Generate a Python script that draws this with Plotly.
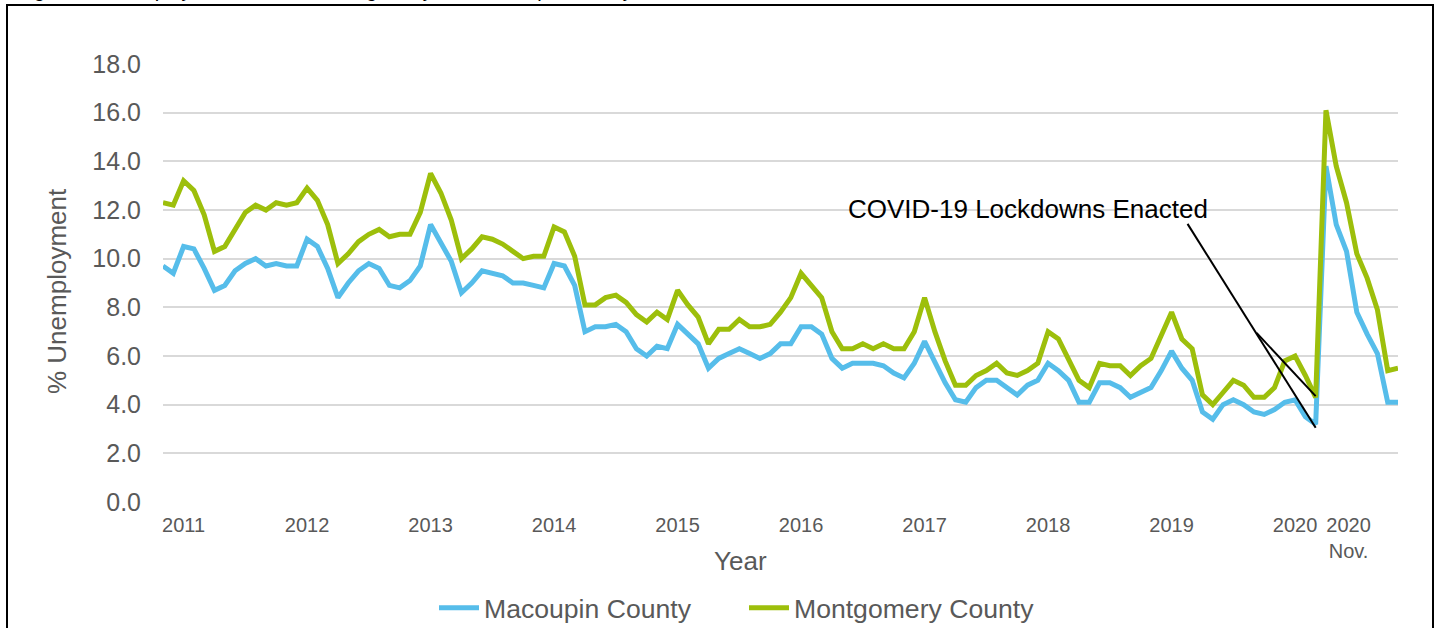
import plotly.graph_objects as go

# Monthly unemployment rate (%), Nov 2010 .. Nov 2020
macoupin = [9.7, 9.4, 10.5, 10.4, 9.6, 8.7, 8.9, 9.5, 9.8, 10.0,
            9.7, 9.8, 9.7, 9.7, 10.8, 10.5, 9.6, 8.4, 9.0, 9.5,
            9.8, 9.6, 8.9, 8.8, 9.1, 9.7, 11.4, 10.6, 9.9, 8.6,
            9.0, 9.5, 9.4, 9.3, 9.0, 9.0, 8.9, 8.8, 9.8, 9.7,
            8.9, 7.0, 7.2, 7.2, 7.3, 7.0, 6.3, 6.0, 6.4, 6.3,
            7.3, 6.9, 6.5, 5.5, 5.9, 6.1, 6.3, 6.1, 5.9, 6.1,
            6.5, 6.5, 7.2, 7.2, 6.9, 5.9, 5.5, 5.7, 5.7, 5.7,
            5.6, 5.3, 5.1, 5.7, 6.6, 5.7, 4.9, 4.2, 4.1, 4.7,
            5.0, 5.0, 4.7, 4.4, 4.8, 5.0, 5.7, 5.4, 5.0, 4.1,
            4.1, 4.9, 4.9, 4.7, 4.3, 4.5, 4.7, 5.4, 6.2, 5.5,
            5.0, 3.7, 3.4, 4.0, 4.2, 4.0, 3.7, 3.6, 3.8, 4.1,
            4.2, 3.5, 3.2, 13.8, 11.4, 10.3, 7.8, 6.9, 6.1, 4.1,
            4.1]

montgomery = [12.3, 12.2, 13.2, 12.8, 11.8, 10.3, 10.5, 11.2, 11.9, 12.2,
              12.0, 12.3, 12.2, 12.3, 12.9, 12.4, 11.4, 9.8, 10.2, 10.7,
              11.0, 11.2, 10.9, 11.0, 11.0, 11.9, 13.5, 12.7, 11.6, 10.0,
              10.4, 10.9, 10.8, 10.6, 10.3, 10.0, 10.1, 10.1, 11.3, 11.1,
              10.1, 8.1, 8.1, 8.4, 8.5, 8.2, 7.7, 7.4, 7.8, 7.5,
              8.7, 8.1, 7.6, 6.5, 7.1, 7.1, 7.5, 7.2, 7.2, 7.3,
              7.8, 8.4, 9.4, 8.9, 8.4, 7.0, 6.3, 6.3, 6.5, 6.3,
              6.5, 6.3, 6.3, 7.0, 8.4, 7.0, 5.8, 4.8, 4.8, 5.2,
              5.4, 5.7, 5.3, 5.2, 5.4, 5.7, 7.0, 6.7, 5.9, 5.0,
              4.7, 5.7, 5.6, 5.6, 5.2, 5.6, 5.9, 6.9, 7.8, 6.7,
              6.3, 4.4, 4.0, 4.5, 5.0, 4.8, 4.3, 4.3, 4.7, 5.8,
              6.0, 5.2, 4.3, 16.1, 13.8, 12.3, 10.2, 9.2, 7.9, 5.4,
              5.5]

x_idx = list(range(len(macoupin)))

tick_text = ["2011", "2012", "2013", "2014", "2015", "2016", "2017",
             "2018", "2019", "2020", "2020<br>Nov."]
tick_pos = [2, 14, 26, 38, 50, 62, 74, 86, 98, 110, 115.2]

y_ticks = [0, 2, 4, 6, 8, 10, 12, 14, 16, 18]

lockdown_idx = 112

BLUE = "#56BDEA"
GREEN = "#9DBF0B"
GREY = "#595959"
FONT = "Liberation Sans, Arial, sans-serif"

fig = go.Figure()
fig.add_trace(go.Scatter(x=x_idx, y=macoupin, mode="lines", name="Macoupin County",
                         line=dict(color=BLUE, width=5)))
fig.add_trace(go.Scatter(x=x_idx, y=montgomery, mode="lines", name="Montgomery County",
                         line=dict(color=GREEN, width=5)))

fig.update_layout(
    width=1439, height=628,
    margin=dict(l=163, r=41, t=64, b=126, autoexpand=False),
    paper_bgcolor="white", plot_bgcolor="white",
    font=dict(family=FONT, color=GREY),
    showlegend=True,
    legend=dict(orientation="h", x=(744 - 163) / 1235, xanchor="center", y=-0.242,
                yanchor="middle", font=dict(size=26.6, color=GREY), itemwidth=40,
                entrywidth=255, traceorder="normal"),
)

fig.update_xaxes(range=[0, len(macoupin) - 1], tickmode="array", tickvals=tick_pos,
                 ticktext=tick_text, tickfont=dict(size=20, color=GREY),
                 showgrid=False, zeroline=False, showline=False, ticks="",
                 ticklabelstandoff=9)
fig.update_yaxes(range=[0, 18], tickmode="array", tickvals=y_ticks,
                 ticktext=[f"{v:.1f}" for v in y_ticks],
                 tickfont=dict(size=25, color=GREY), showgrid=True,
                 gridcolor="#D9D9D9", gridwidth=2, zeroline=False, showline=False,
                 ticks="", ticklabelstandoff=21)

# axis titles
fig.add_annotation(text="Year", xref="paper", yref="paper",
                   x=(740 - 163) / 1235, y=(502 - 561) / 438, xanchor="center", yanchor="middle",
                   showarrow=False, font=dict(size=26, color=GREY))
fig.add_annotation(text="% Unemployment", xref="paper", yref="paper",
                   x=(57 - 163) / 1235, y=(502 - 291) / 438, xanchor="center", yanchor="middle",
                   textangle=-90, showarrow=False, font=dict(size=26, color=GREY))

# COVID annotation
fig.add_annotation(text="COVID-19 Lockdowns Enacted", xref="x", yref="y",
                   x=84, y=12.05, xanchor="center", yanchor="middle",
                   showarrow=False, font=dict(size=26, color="black"))
fig.add_shape(type="line", xref="x", yref="y", x0=99.55, y0=11.43,
              x1=lockdown_idx, y1=macoupin[lockdown_idx] - 0.15,
              line=dict(color="black", width=2))
fig.add_shape(type="line", xref="x", yref="y", x0=106.26, y0=6.95,
              x1=lockdown_idx, y1=montgomery[lockdown_idx] + 0.05,
              line=dict(color="black", width=2))

# outer frame and cut-off caption
fig.add_shape(type="rect", xref="paper", yref="paper",
              x0=(7 - 163) / 1235, x1=(1433 - 163) / 1235,
              y0=(502 - 640) / 438, y1=(502 - 5) / 438,
              line=dict(color="black", width=2), fillcolor="rgba(0,0,0,0)", layer="below")
fig.add_annotation(text="Figure 6: Unemployment Rates of Montgomery and Macoupin County",
                   xref="paper", yref="paper", x=(15 - 163) / 1235, y=(502 - 3) / 438,
                   xanchor="left", yanchor="bottom", showarrow=False,
                   font=dict(size=20, color="black"))

fig.write_html("out.html", config={"displayModeBar": False},
               post_script="document.body.style.margin='0';")
